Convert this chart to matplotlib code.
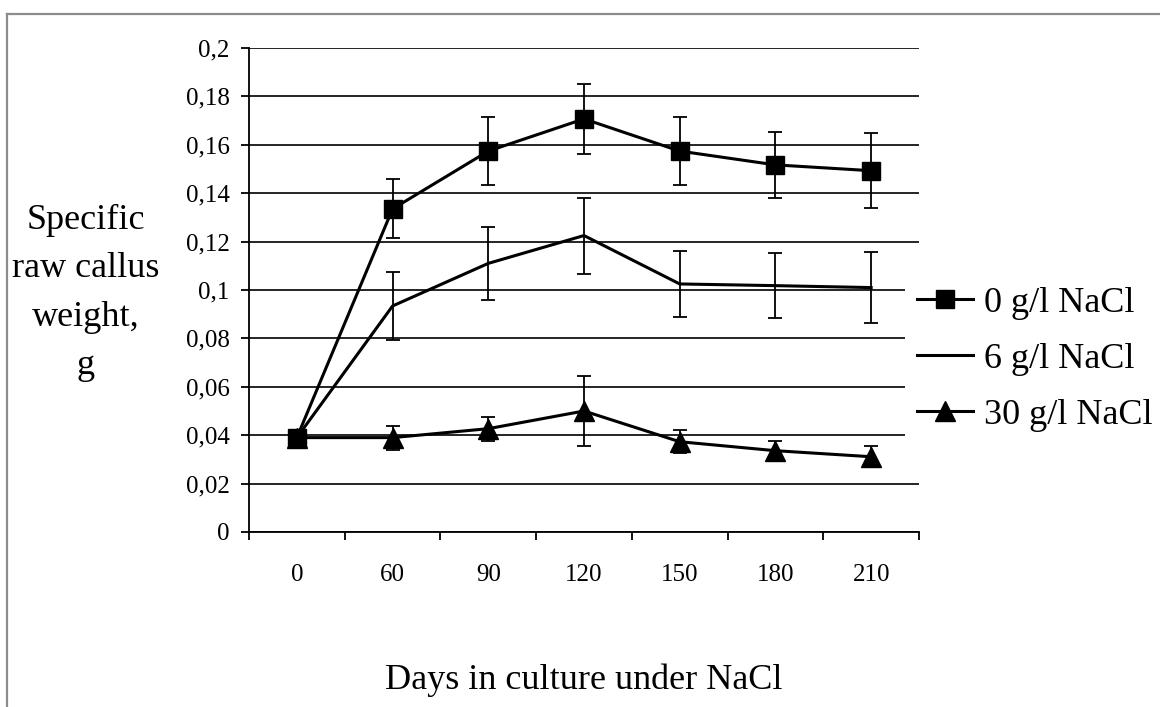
import numpy as np
import matplotlib
matplotlib.use("Agg")
import matplotlib.pyplot as plt
from matplotlib.lines import Line2D

days = ['0', '60', '90', '120', '150', '180', '210']

w_0 = [0.039, 0.1335, 0.1574, 0.1707, 0.1574, 0.1517, 0.1493]
err_0 = [0, 0.0122, 0.014, 0.0145, 0.014, 0.0135, 0.0155]

w_6 = [0.039, 0.0934, 0.111, 0.1225, 0.1025, 0.1018, 0.101]
err_6 = [0, 0.014, 0.015, 0.0157, 0.0135, 0.0135, 0.0145]

w_30 = [0.039, 0.039, 0.0427, 0.050, 0.0373, 0.0336, 0.0311]
err_30 = [0, 0.005, 0.005, 0.0145, 0.0047, 0.0042, 0.0043]

y_ticks = [0, 0.02, 0.04, 0.06, 0.08, 0.1, 0.12, 0.14, 0.16, 0.18, 0.2]
y_labels = ['0', '0,02', '0,04', '0,06', '0,08', '0,1', '0,12', '0,14', '0,16', '0,18', '0,2']

plt.rcParams['font.family'] = 'serif'
plt.rcParams['font.serif'] = ['Liberation Serif', 'DejaVu Serif']

fig = plt.figure(figsize=(11.6, 7.07), dpi=100)
ax = fig.add_axes([249/1160, 1 - 532/707, (919 - 249)/1160, (532 - 48)/707])

x = np.arange(len(days))
eb = dict(ecolor='black', elinewidth=1.3, capsize=4.7, capthick=1.3)

ax.errorbar(x, w_30, yerr=err_30, color='black', lw=2.2, marker='^', ms=14, zorder=3, **eb)
ax.errorbar(x, w_6, yerr=err_6, color='black', lw=2.2, zorder=4, **eb)
ax.errorbar(x, w_0, yerr=err_0, color='black', lw=2.2, marker='s', ms=13, zorder=5, **eb)

ax.set_xlim(-0.5, len(days) - 0.5)
ax.set_ylim(0, 0.2)
ax.set_yticks(y_ticks)
ax.set_yticklabels(y_labels)
ax.grid(axis='y', color='black', lw=1.2)
ax.set_axisbelow(True)

ax.set_xticks(np.arange(-0.5, len(days), 1))
ax.set_xticklabels([])
ax.set_xticks(x, minor=True)
ax.set_xticklabels(days, minor=True)
ax.tick_params(axis='x', which='major', direction='out', length=6, width=1.3)
ax.tick_params(axis='x', which='minor', length=0, pad=23, labelsize=18)
ax.tick_params(axis='y', direction='out', length=6, width=1.3, pad=8, labelsize=18)

for s in ['top', 'right']:
    ax.spines[s].set_visible(False)
for s in ['left', 'bottom']:
    ax.spines[s].set_linewidth(1.3)

handles = [Line2D([], [], color='black', lw=2.2, marker='s', ms=13),
           Line2D([], [], color='black', lw=2.2),
           Line2D([], [], color='black', lw=2.2, marker='^', ms=14)]
labels = ['0 g/l NaCl', '6 g/l NaCl', '30 g/l NaCl']
leg = fig.legend(handles, labels,
                 loc='center left', bbox_to_anchor=(905/1160, 1 - 359/707),
                 fontsize=26, frameon=True, fancybox=False, framealpha=1,
                 borderpad=0.33, borderaxespad=0, handlelength=1.55,
                 handletextpad=0.3, labelspacing=0.63)
leg.get_frame().set_facecolor('white')
leg.get_frame().set_edgecolor('none')

fig.text(86/1160, 1 - 293/707, 'Specific\nraw callus\nweight,\ng', fontsize=26,
         ha='center', va='center', multialignment='center', linespacing=1.62)
fig.text(584/1160, 1 - 680/707, 'Days in culture under NaCl', fontsize=26,
         ha='center', va='center')

# grey border of the chart area (left and top edges only are visible)
fig.add_artist(Line2D([7/1160, 7/1160], [0, 1 - 14/707], color='#8c8c8c', lw=1.6,
                      transform=fig.transFigure))
fig.add_artist(Line2D([7/1160, 1], [1 - 14/707, 1 - 14/707], color='#8c8c8c', lw=1.6,
                      transform=fig.transFigure))

fig.savefig('out.png', dpi=100)
